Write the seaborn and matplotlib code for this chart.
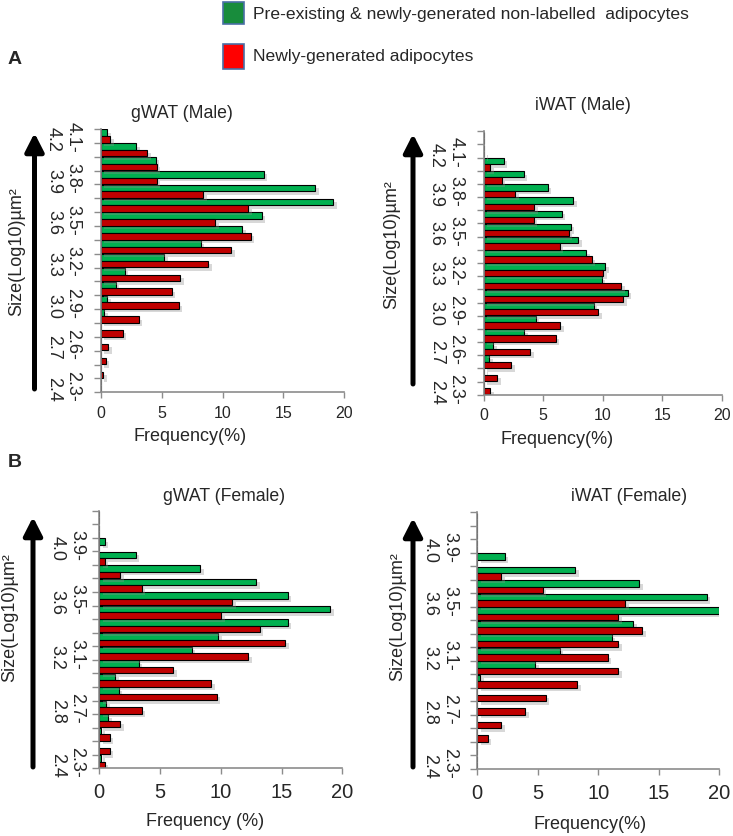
import numpy as np
import pandas as pd
import matplotlib
matplotlib.use("Agg")
import matplotlib.pyplot as plt
import matplotlib.patheffects as pe
from matplotlib.patches import Rectangle
import seaborn as sns

sns.set_theme(style="white")
plt.rcParams['font.family'] = ['Liberation Sans', 'DejaVu Sans']

# ---------------- data ----------------
series_names = ["Pre-existing & newly-generated non-labelled  adipocytes",
                "Newly-generated adipocytes"]

# gWAT (Male): bins 4.1-4.2 (top) ... 2.3-2.4 (bottom)
gm_bins = ["4.1-4.2", "4.0-4.1", "3.9-4.0", "3.8-3.9", "3.7-3.8", "3.6-3.7", "3.5-3.6",
           "3.4-3.5", "3.3-3.4", "3.2-3.3", "3.1-3.2", "3.0-3.1", "2.9-3.0", "2.8-2.9",
           "2.7-2.8", "2.6-2.7", "2.5-2.6", "2.4-2.5", "2.3-2.4"]
gm_green = [0.5, 2.9, 4.5, 13.4, 17.6, 19.1, 13.2, 11.6, 8.2, 5.2, 1.95, 1.2, 0.5, 0.27, 0, 0, 0, 0, 0]
gm_red = [0.77, 3.8, 4.6, 4.6, 8.4, 12.1, 9.4, 12.3, 10.7, 8.8, 6.5, 5.8, 6.4, 3.1, 1.8, 0.6, 0.4, 0.2, 0]
gm_ticklabels = {"4.1-4.2": "4.1-\n4.2", "3.8-3.9": "3.8-\n3.9", "3.5-3.6": "3.5-\n3.6",
                 "3.2-3.3": "3.2-\n3.3", "2.9-3.0": "2.9-\n3.0", "2.6-2.7": "2.6-\n2.7",
                 "2.3-2.4": "2.3-\n2.4"}

# iWAT (Male): bins 4.2-4.3 (top) ... 2.3-2.4 (bottom)
im_bins = ["4.2-4.3"] + gm_bins
im_green = [0, 0, 1.68, 3.36, 5.4, 7.53, 6.58, 7.31, 7.96, 8.63, 10.2, 9.94, 12.1, 9.27,
            4.37, 3.42, 0.81, 0.48, 0.06, 0]
im_red = [0, 0.05, 0.56, 1.54, 2.66, 4.26, 4.2, 7.14, 6.39, 9.08, 10.06, 11.57, 11.74, 9.64,
          6.44, 6.05, 3.92, 2.32, 1.15, 0.56]
im_ticklabels = gm_ticklabels

# gWAT (Female)
gf_bins = gm_bins
gf_green = [0, 0, 0.44, 2.99, 8.3, 12.9, 15.5, 19.0, 15.5, 9.8, 7.6, 3.26, 1.32, 1.62,
            0.58, 0.74, 0.16, 0, 0.16]
gf_red = [0, 0, 0, 0.44, 1.73, 3.48, 10.95, 10.04, 13.2, 15.3, 12.26, 6.1, 9.2, 9.66,
          3.48, 1.73, 0.88, 0.88, 0.44]
gf_ticklabels = {"3.9-4.0": "3.9-\n4.0", "3.5-3.6": "3.5-\n3.6", "3.1-3.2": "3.1-\n3.2",
                 "2.7-2.8": "2.7-\n2.8", "2.3-2.4": "2.3-\n2.4"}

# iWAT (Female)
if_bins = gm_bins
if_green = [0, 0, 0, 2.26, 8.1, 13.4, 19.0, 20.0, 12.9, 11.14, 6.81, 4.8, 0.25, 0, 0, 0, 0, 0, 0]
if_red = [0, 0, 0, 0, 2.0, 5.4, 12.25, 11.67, 13.66, 11.67, 10.8, 11.67, 8.28, 5.68,
          3.97, 2.0, 0.86, 0, 0]
if_ticklabels = gf_ticklabels

xticks = [0, 5, 10, 15, 20]

# ---------------- figure ----------------
W, H = 733, 837
fig = plt.figure(figsize=(W / 100, H / 100), dpi=100)


def fx(x):
    return x / W


def fy(y):
    return 1 - y / H


bar_colors = ["#00b050", "#c00000"]
axis_gray = "#8c8c8c"


def panel(rect_px, bins, green, red, ticklabels, title, title_xy, xlabel, xlabel_xy,
          ylab_xy, arrow_x, arrow_y0, arrow_y1, tick_fs, lab_pad, xtick_pad):
    l, t, r, b = rect_px
    ax = fig.add_axes([fx(l), fy(b), fx(r) - fx(l), (b - t) / H])
    df = pd.DataFrame({
        "bin": bins * 2,
        "series": [series_names[0]] * len(bins) + [series_names[1]] * len(bins),
        "freq": list(green) + list(red),
    })
    sns.barplot(data=df, y="bin", x="freq", hue="series", order=bins,
                hue_order=series_names, palette=bar_colors, orient="h",
                width=0.96, edgecolor="black", linewidth=0.8, saturation=1,
                legend=False, ax=ax)
    for p in ax.patches:
        p.set_path_effects([pe.SimplePatchShadow(offset=(2.5, -2.5), shadow_rgbFace="#909090",
                                                 alpha=0.35), pe.Normal()])
    n = len(bins)
    ax.set_ylim(n - 0.5, -0.5)
    ax.set_xlim(0, 20)
    ax.set_yticks(np.arange(n + 1) - 0.5)
    ax.set_yticklabels([])
    pos = [bins.index(k) for k in ticklabels]
    ax.set_yticks(pos, minor=True)
    ax.set_yticklabels(list(ticklabels.values()), minor=True, rotation=-90,
                       fontsize=13, va="center", ha="right", linespacing=1.2)
    ax.tick_params(axis="y", which="major", length=5, width=1, color=axis_gray,
                   direction="out", left=True)
    ax.tick_params(axis="y", which="minor", length=0, pad=lab_pad, left=True)
    ax.set_xticks(xticks)
    ax.set_xticklabels([str(v) for v in xticks], fontsize=tick_fs)
    ax.tick_params(axis="x", which="major", length=4, width=1, color=axis_gray,
                   direction="out", bottom=True, pad=xtick_pad)
    ax.set_xlabel("")
    ax.set_ylabel("")
    for s in ["top", "right"]:
        ax.spines[s].set_visible(False)
    for s in ["left", "bottom"]:
        ax.spines[s].set_color(axis_gray)
        ax.spines[s].set_linewidth(1.2)
    ax.grid(False)
    fig.text(fx(title_xy[0]), fy(title_xy[1]), title, ha="center", va="center", fontsize=12.7)
    fig.text(fx(xlabel_xy[0]), fy(xlabel_xy[1]), xlabel, ha="center", va="center", fontsize=13)
    fig.text(fx(ylab_xy[0]), fy(ylab_xy[1]), "Size(Log10)µm²", ha="center", va="center",
             rotation=90, fontsize=13)
    fig.add_artist(matplotlib.patches.FancyArrowPatch(
        (fx(arrow_x), fy(arrow_y0)), (fx(arrow_x), fy(arrow_y1)),
        transform=fig.transFigure, arrowstyle="-|>,head_length=0.55,head_width=0.28",
        mutation_scale=20, lw=3.6, color="black", shrinkA=0, shrinkB=0))
    return ax


panel((101, 130, 344.3, 393.3), gm_bins, gm_green, gm_red, gm_ticklabels,
      "gWAT (Male)", (182, 113), "Frequency(%)", (190, 437), (17, 252),
      34.5, 390, 134, 11.5, 14, 5)
panel((483.7, 132.3, 721.7, 395.7), im_bins, im_green, im_red, im_ticklabels,
      "iWAT (Male)", (583, 106), "Frequency(%)", (557, 440), (392, 245),
      413, 385, 135, 11.5, 14, 5)
panel((99.3, 511.7, 342.3, 769.3), gf_bins, gf_green, gf_red, gf_ticklabels,
      "gWAT (Female)", (224, 497), "Frequency (%)", (205, 822), (10, 618),
      33, 768, 518, 14.5, 10, 6)
panel((477.3, 513.3, 719, 770), if_bins, if_green, if_red, if_ticklabels,
      "iWAT (Female)", (629, 497), "Frequency(%)", (590, 825), (398, 617),
      413, 768, 519, 14.5, 14, 6)

# panel letters
fig.text(fx(15), fy(60), "A", ha="center", va="center", fontsize=14, fontweight="bold")
fig.text(fx(15), fy(463), "B", ha="center", va="center", fontsize=14, fontweight="bold")

# legend (manual)
legend_colors = ["#188c3c", "#ff0000"]
for (y0, y1, yt), c, name in zip([(3, 25, 15), (45, 70, 57)], legend_colors, series_names):
    fig.add_artist(Rectangle((fx(223), fy(y1)), fx(244) - fx(223), (y1 - y0) / H,
                             transform=fig.transFigure, facecolor=c, edgecolor="#4a6fa5",
                             lw=1.2))
    fig.text(fx(253), fy(yt), name, ha="left", va="center", fontsize=12.6)

fig.savefig("out.png", dpi=100)
